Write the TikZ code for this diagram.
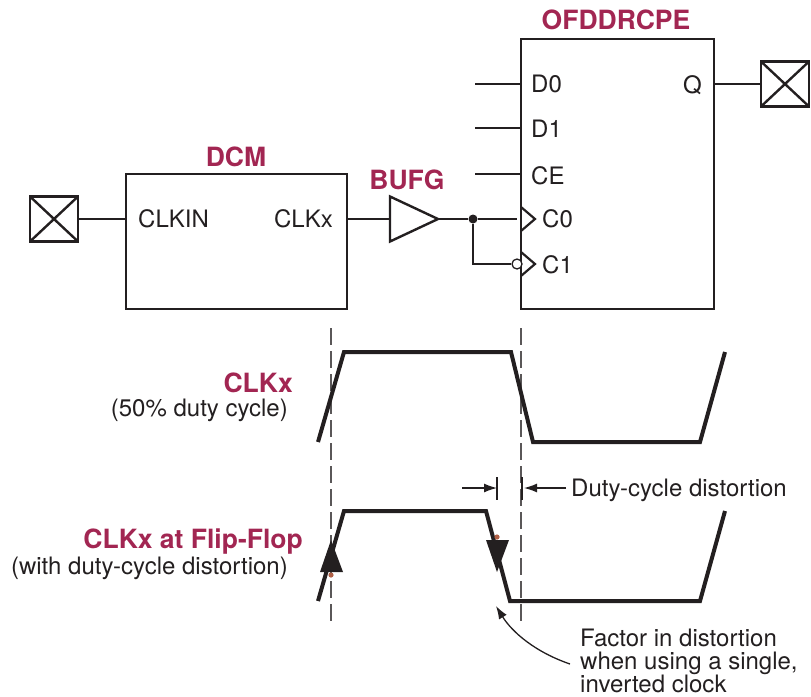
\documentclass[tikz,border=0pt]{standalone}
\usepackage{fontspec}
\setmainfont{TeX Gyre Heros}
\usetikzlibrary{arrows.meta,positioning,shapes.geometric}
\definecolor{wine}{RGB}{162,38,82}
\definecolor{ink}{RGB}{35,31,32}
\definecolor{rust}{RGB}{176,96,70}
\tikzset{
  wire/.style={ink,line width=1.3pt},
  blockbox/.style={draw=ink,line width=2.4pt,inner sep=0pt,outer sep=0pt,anchor=north west},
  padbox/.style={draw=ink,line width=2.4pt,inner sep=0pt,outer sep=0pt,minimum width=48pt,minimum height=45pt,
    path picture={\draw[ink,line width=2.4pt] (path picture bounding box.north west) -- (path picture bounding box.south east)
      (path picture bounding box.south west) -- (path picture bounding box.north east);}},
  title/.style={font=\fontsize{26.5}{28}\selectfont\bfseries,text=wine,inner sep=0pt},
  pin/.style={font=\fontsize{24}{26}\selectfont,text=ink,inner sep=0pt},
  note/.style={font=\fontsize{24}{26}\selectfont,text=ink,inner sep=0pt,anchor=base west},
  wave/.style={ink,line width=4pt,line join=miter},
  guide/.style={ink!75,line width=1.3pt,dash pattern=on 17pt off 6pt},
  measure/.style={wire,-{Latex[length=13pt,width=9pt]}},
  clockpin/.style={ink,line width=2.2pt},
}
\begin{document}
\begin{tikzpicture}[x=1pt,y=-1pt]
  \useasboundingbox (0,0) rectangle (811,696);
  % blocks
  \node[blockbox,minimum width=221pt,minimum height=135pt] (dcm) at (126,174) {};
  \node[blockbox,minimum width=193pt,minimum height=270pt] (ff) at (521,39) {};
  \node[padbox] (padin) at (54,219) {};
  \node[padbox] (padout) at (785,84) {};
  \node[draw=ink,line width=2.4pt,isosceles triangle,isosceles triangle stretches,
    minimum width=45pt,minimum height=48pt,inner sep=0pt,outer sep=0pt,anchor=lower side] (bufg) at (390,219) {};
  % titles
  \node[title] (dcmname) at (236,157) {DCM};
  \node[title] (bufgname) at (407,180) {BUFG};
  \node[title] (ffname) at (616,20) {OFDDRCPE};
  % pins
  \node[pin,anchor=west] (clkin) at (138,219) {CLKIN};
  \node[pin,anchor=east] (clkx) at (333,219) {CLKx};
  \node[pin,anchor=west] (d0) at (531,84) {D0};
  \node[pin,anchor=west] (d1) at (531,129) {D1};
  \node[pin,anchor=west] (ce) at (531,176) {CE};
  \node[pin,anchor=west] (c0) at (542,219) {C0};
  \node[pin,anchor=west] (c1) at (542,265) {C1};
  \node[pin,anchor=east] (q) at (702,85) {Q};
  % wiring
  \coordinate (d0end) at (475,84);
  \coordinate (d1end) at (475,128);
  \coordinate (ceend) at (475,174);
  \coordinate (c0end) at (517,219);
  \node[circle,fill=ink,inner sep=0pt,minimum size=9pt] (tap) at (473,219) {};
  \node[circle,draw=ink,fill=white,line width=1.3pt,inner sep=0pt,minimum size=10pt] (invert) at (517,264) {};
  \draw[wire] (padin.east) -- (dcm.west |- padin.east);
  \draw[wire] (dcm.east |- bufg.lower side) -- (bufg.lower side);
  \draw[wire] (bufg.apex) -- (tap) -- (c0end);
  \draw[wire] (tap) |- (invert);
  \draw[wire] (d0end) -- (ff.west |- d0end);
  \draw[wire] (d1end) -- (ff.west |- d1end);
  \draw[wire] (ceend) -- (ff.west |- ceend);
  \draw[wire] (ff.east |- padout.west) -- (padout.west);
  \draw[clockpin] (521,207) -- (535,219) -- (521,231);
  \draw[clockpin] (521,252) -- (535,264) -- (521,276);
  % timing
  \draw[guide] (331,328) -- (331,622);
  \draw[guide] (521,328) -- (521,622);
  \draw[wave] (318,442) -- (344,352) -- (511,352) -- (533,442) -- (700,442) -- (725,352);
  \draw[wave] (318,601) -- (344,511) -- (486,511) -- (510,601) -- (700,601) -- (725,511);
  \fill[rust] (331,575) circle (2.6);
  \fill[rust] (497,537) circle (2.6);
  \fill[ink] (331,540) -- (343,572) -- (320,572) -- cycle;
  \fill[ink] (497,572) -- (509,540) -- (486,540) -- cycle;
  % labels
  \node[title,anchor=east] (clkxname) at (293,383) {CLKx};
  \node[pin,anchor=east] (clkxnote) at (288,410) {(50\% duty cycle)};
  \node[title,anchor=east] (ffclk) at (303,542) {CLKx at Flip-Flop};
  \node[pin,anchor=east] (ffclknote) at (288,568) {(with duty-cycle distortion)};
  % distortion
  \coordinate (tickl) at (497,477);
  \coordinate (tickr) at (522,477);
  \coordinate (leftend) at (462,488);
  \node[note] (duty) at (571,496) {Duty-cycle distortion};
  \draw[wire] (tickl) -- ++(0,23);
  \draw[wire] (tickr) -- ++(0,23);
  \draw[measure] (leftend) -- (tickl |- leftend);
  \draw[measure] (566,488) -- (524,488);
  \node[note] (factora) at (580,646) {Factor in distortion};
  \node[note] (factorb) at (580,669) {when using a single,};
  \node[note] (factorc) at (580,692) {inverted clock};
  \coordinate (factortip) at (496,606);
  \draw[measure] (570,664) .. controls (535,652) and (512,632) .. (factortip);
\end{tikzpicture}
\end{document}
